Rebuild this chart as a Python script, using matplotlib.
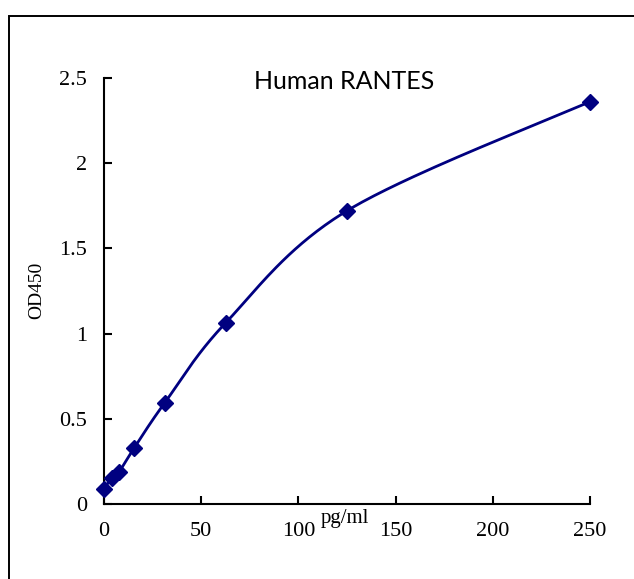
"""Human RANTES ELISA standard curve."""

import numpy as np
import matplotlib
matplotlib.use("Agg")
import matplotlib.pyplot as plt
from matplotlib.patches import Rectangle


conc = [0, 3.9, 7.8, 15.6, 31.25, 62.5, 125, 250]
od450 = [0.09, 0.15, 0.19, 0.33, 0.594, 1.062, 1.721, 2.361]
x_ticks = [0, 50, 100, 150, 200, 250]
y_ticks = [0, 0.5, 1, 1.5, 2, 2.5]
y_tick_labels = ["0", "0.5", "1", "1.5", "2", "2.5"]

NAVY = "#000080"
TICK_FONT = "Liberation Serif"


def smooth(xs, ys, steps=40):
    # Excel-style smoothed line (Catmull-Rom through the points)
    xs = np.asarray(xs, float)
    ys = np.asarray(ys, float)
    px = np.concatenate([[xs[0]], xs, [xs[-1]]])
    py = np.concatenate([[ys[0]], ys, [ys[-1]]])
    out_x, out_y = [], []
    t = np.linspace(0, 1, steps)
    for i in range(1, len(px) - 2):
        p0x, p1x, p2x, p3x = px[i - 1], px[i], px[i + 1], px[i + 2]
        p0y, p1y, p2y, p3y = py[i - 1], py[i], py[i + 1], py[i + 2]
        c1x, c1y = p1x + (p2x - p0x) / 6, p1y + (p2y - p0y) / 6
        c2x, c2y = p2x - (p3x - p1x) / 6, p2y - (p3y - p1y) / 6
        bx = (1 - t) ** 3 * p1x + 3 * (1 - t) ** 2 * t * c1x + 3 * (1 - t) * t ** 2 * c2x + t ** 3 * p2x
        by = (1 - t) ** 3 * p1y + 3 * (1 - t) ** 2 * t * c1y + 3 * (1 - t) * t ** 2 * c2y + t ** 3 * p2y
        out_x.extend(bx)
        out_y.extend(by)
    return out_x, out_y


def main() -> None:
    fig = plt.figure(figsize=(6.34, 5.79), dpi=100)
    fig.patch.set_facecolor("white")

    # outer chart frame, running off the right and bottom edges
    fig.patches.append(Rectangle((9 / 634, -0.05), 1.0, 1 - 16 / 579 + 0.05,
                                 transform=fig.transFigure, fill=False,
                                 edgecolor="black", linewidth=1.4))

    ax = fig.add_axes([104 / 634, 1 - 504 / 579, 486 / 634, 426 / 579])
    ax.set_xlim(0, 250)
    ax.set_ylim(0, 2.5)
    for side in ("top", "right"):
        ax.spines[side].set_visible(False)
    for side in ("left", "bottom"):
        ax.spines[side].set_linewidth(1.5)
        ax.spines[side].set_color("black")

    sx, sy = smooth(conc, od450)
    ax.plot(sx, sy, color=NAVY, linewidth=2.0, clip_on=False, zorder=2)
    ax.plot(conc, od450, linestyle="none", marker="D", markersize=8,
            color=NAVY, clip_on=False, zorder=3)

    ax.set_xticks(x_ticks)
    ax.set_yticks(y_ticks)
    ax.set_yticklabels(y_tick_labels)
    ax.tick_params(direction="in", length=6, width=1.5, color="black")
    ax.tick_params(axis="x", pad=13)
    ax.tick_params(axis="y", pad=12)
    for lab in ax.get_xticklabels() + ax.get_yticklabels():
        lab.set_fontfamily(TICK_FONT)
        lab.set_fontsize(16)

    ax.text(345 / 634, 1 - 518 / 579, "pg/ml", transform=fig.transFigure,
            ha="center", va="center", fontsize=15, family=TICK_FONT)
    ax.text(37 / 634, 1 - 290 / 579, "OD450", transform=fig.transFigure,
            ha="center", va="center", rotation=90, fontsize=14, family=TICK_FONT)
    ax.text(344 / 634, 1 - 81 / 579, "Human RANTES", transform=fig.transFigure,
            ha="center", va="center", fontsize=18, family="Lato")

    fig.savefig("out.png", dpi=100, facecolor="white")
    plt.close(fig)


if __name__ == "__main__":
    main()
